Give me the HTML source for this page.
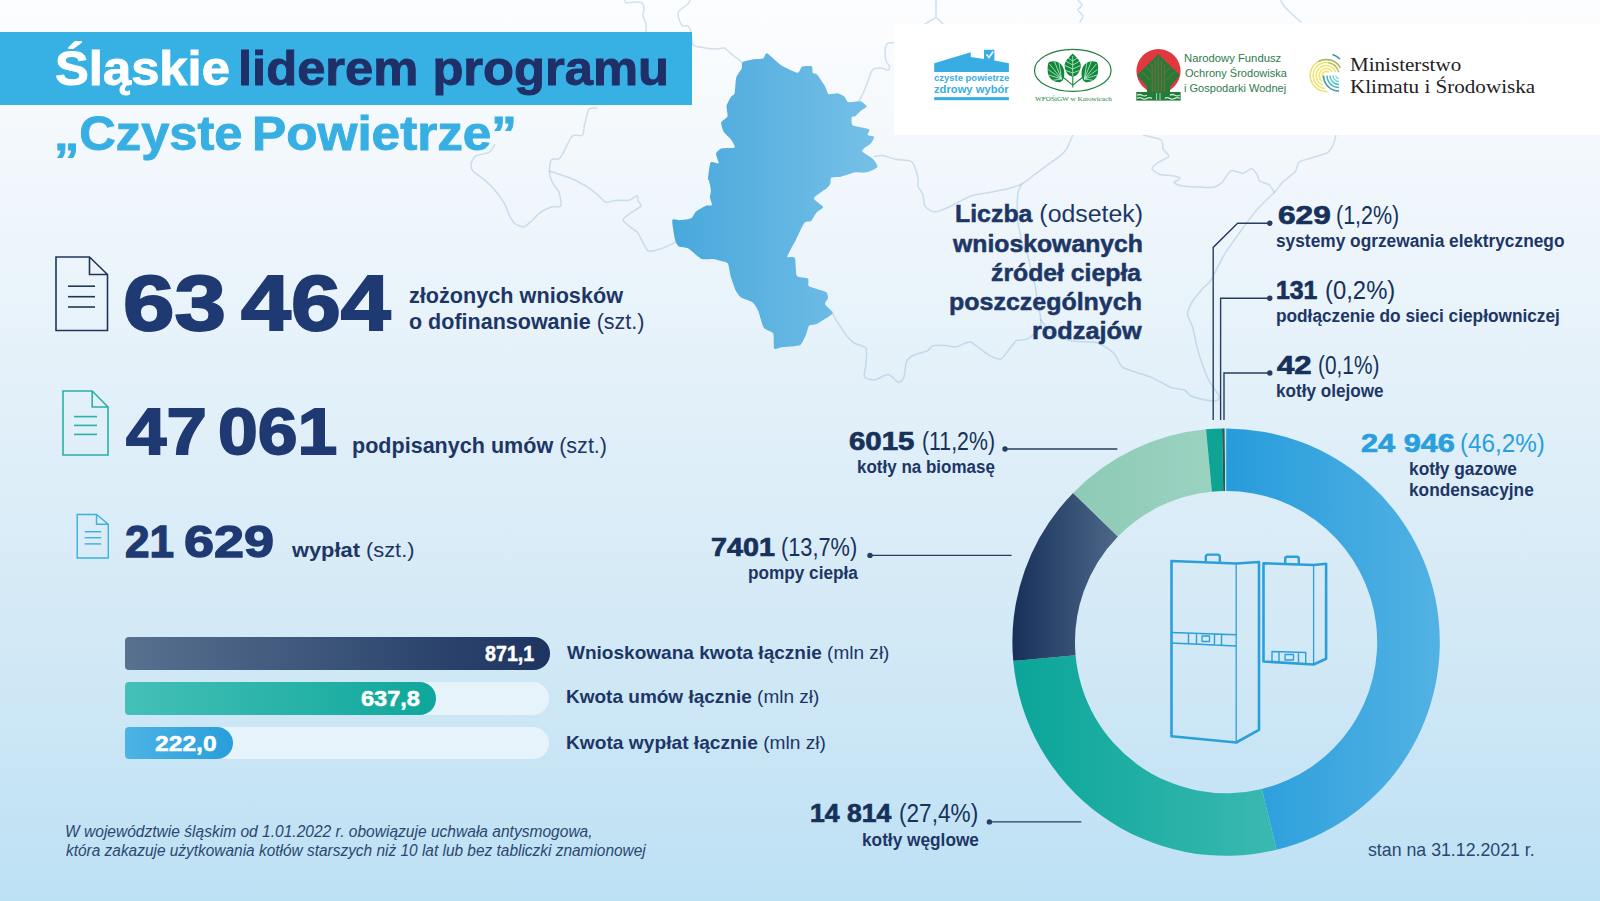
<!DOCTYPE html>
<html lang="pl">
<head>
<meta charset="utf-8">
<style>
*{margin:0;padding:0;box-sizing:border-box}
html,body{width:1600px;height:901px;overflow:hidden}
body{position:relative;font-family:"Liberation Sans",sans-serif;background:linear-gradient(180deg,#fcfdfe 0%,#f1f7fc 20%,#e2f0f9 45%,#d3e9f6 70%,#bde1f4 100%);color:#1d3666}
.a{position:absolute;white-space:nowrap;line-height:1;transform-origin:0 0}
.r{font-weight:normal}
.k{-webkit-text-stroke-width:0.7px}
.box{position:absolute}
svg{position:absolute;left:0;top:0}
</style>
</head>
<body>

<svg width="1600" height="901" viewBox="0 0 1600 901">
<defs>
<linearGradient id="mapg" x1="0" y1="0" x2="1" y2="0"><stop offset="0" stop-color="#48a8dc"/><stop offset="1" stop-color="#76c0e7"/></linearGradient>
<linearGradient id="gGas" gradientUnits="userSpaceOnUse" x1="1226" y1="0" x2="1440" y2="0"><stop offset="0" stop-color="#279cdb"/><stop offset="1" stop-color="#52b2e3"/></linearGradient>
<linearGradient id="gCoal" gradientUnits="userSpaceOnUse" x1="1012" y1="0" x2="1290" y2="0"><stop offset="0" stop-color="#0aa599"/><stop offset="1" stop-color="#3dbab2"/></linearGradient>
<linearGradient id="gHp" gradientUnits="userSpaceOnUse" x1="1012" y1="0" x2="1118" y2="0"><stop offset="0" stop-color="#17305a"/><stop offset="1" stop-color="#4d6888"/></linearGradient>
<linearGradient id="gBio" gradientUnits="userSpaceOnUse" x1="1070" y1="0" x2="1205" y2="0"><stop offset="0" stop-color="#8dcab6"/><stop offset="1" stop-color="#9ad2c0"/></linearGradient>
</defs>
<g fill="none" stroke="rgba(125,170,205,0.34)" stroke-width="1.5" stroke-linejoin="round" stroke-linecap="round">
<path d="M596.6,107.9 C595.7,108.0 590.2,107.7 589.0,108.9 C587.8,110.1 586.7,116.3 586.2,118.3 C585.7,120.3 584.7,123.8 584.3,125.8 C583.9,127.8 583.9,134.1 582.5,135.3 C581.1,136.5 574.3,134.0 572.0,136.2 C569.7,138.4 564.1,151.6 562.6,154.2 C561.1,156.8 560.2,158.2 558.9,158.9 C557.6,159.6 552.4,158.4 551.3,159.8 C550.2,161.2 549.3,168.5 549.4,171.1 C549.5,173.7 551.2,180.1 552.3,182.5 C553.4,184.9 557.9,189.2 558.9,191.9 C559.9,194.6 561.7,204.2 560.8,206.0 C559.9,207.8 553.7,206.2 551.3,207.0 C548.9,207.8 542.2,211.1 540.0,212.6 C537.8,214.1 534.4,218.5 532.5,220.2 C530.6,221.9 526.0,226.4 524.0,226.8 C522.0,227.2 517.2,225.2 515.5,224.0 C513.8,222.8 511.1,218.8 509.8,216.4 C508.5,214.0 506.0,206.3 504.2,203.2 C502.4,200.1 496.9,192.6 494.7,190.0 C492.5,187.4 487.8,182.8 485.3,180.6 C482.8,178.4 474.7,173.1 473.0,171.1 C471.3,169.1 470.8,165.4 471.1,163.6 C471.4,161.8 473.7,157.3 475.8,156.0 C477.9,154.7 486.8,153.6 489.0,152.3 C491.2,151.0 494.0,145.6 494.7,144.7"/>
<path d="M549.4,171.1 C552.0,172.0 567.4,176.7 572.0,178.7 C576.6,180.7 585.9,186.1 589.0,188.1 C592.1,190.1 596.5,194.0 598.5,195.7 C600.5,197.4 604.0,201.8 606.0,202.3 C608.0,202.8 612.9,200.6 615.5,200.4 C618.1,200.2 626.2,200.9 628.7,200.4 C631.2,199.9 636.1,195.6 637.2,195.7 C638.3,195.8 637.7,200.1 638.1,201.3 C638.5,202.5 642.1,204.5 641.0,206.0 C639.9,207.5 630.8,212.8 628.7,214.5 C626.6,216.2 622.6,218.5 623.0,220.2 C623.4,221.9 630.7,227.2 632.5,228.7 C634.3,230.2 636.4,230.9 638.1,233.4 C639.9,235.9 645.5,248.4 647.5,250.4 C649.5,252.4 652.8,250.8 655.0,250.4 C657.2,250.0 663.9,247.6 666.4,246.6 C668.9,245.6 674.9,242.5 676.0,242.0"/>
<path d="M625.0,0.0 C625.1,0.3 625.0,2.8 626.0,3.0 C627.0,3.2 632.1,2.0 634.0,2.0 C635.9,2.0 640.8,2.3 642.0,3.0 C643.2,3.7 643.9,6.5 644.0,8.0 C644.1,9.5 642.8,14.1 643.0,16.0 C643.2,17.9 645.6,22.1 646.0,24.0 C646.4,25.9 646.0,31.1 646.0,32.0"/>
<path d="M690.0,0.0 C689.8,0.5 689.2,2.8 688.0,4.0 C686.8,5.2 681.2,8.8 680.0,10.0 C678.8,11.2 678.0,12.6 678.0,14.0 C678.0,15.4 679.4,20.6 680.0,22.0 C680.6,23.4 682.1,25.5 683.0,26.0 C683.9,26.5 687.1,25.3 688.0,26.0 C688.9,26.7 690.4,29.8 691.0,32.0 C691.6,34.2 692.0,43.2 693.0,45.0 C694.0,46.8 697.5,46.5 700.0,47.0 C702.5,47.5 711.2,48.9 714.0,49.0 C716.8,49.1 722.4,47.8 724.0,48.0 C725.6,48.2 726.8,50.1 728.0,51.0 C729.2,51.9 732.4,54.7 734.0,56.0 C735.6,57.3 741.1,61.3 742.0,62.0"/>
<path d="M936,0 L936,18  M925.0,24.0 C926.3,23.3 933.9,18.0 936.0,18.0 C938.1,18.0 942.2,23.3 943.0,24.0"/>
<path d="M893.7,42.7 C892.9,42.8 888.2,42.6 887.2,43.6 C886.2,44.6 885.2,48.9 885.1,51.0 C885.0,53.1 885.7,59.9 886.2,61.6 C886.7,63.3 889.2,64.9 889.4,65.9 C889.6,66.9 889.3,69.9 888.3,70.1 C887.3,70.3 882.8,68.0 880.9,68.0 C879.0,68.0 873.9,68.6 872.4,70.1 C870.9,71.6 869.1,78.2 868.1,80.7 C867.1,83.2 864.9,89.2 863.9,91.4 C862.9,93.6 860.6,98.4 859.6,99.9 C858.6,101.4 855.9,103.6 855.4,104.1"/>
<path d="M874.7,156.4 C875.6,156.3 879.9,155.2 882.3,155.5 C884.7,155.8 892.2,158.5 895.5,159.2 C898.8,159.9 908.4,160.3 910.6,161.1 C912.8,161.9 913.4,163.7 914.3,165.8 C915.2,167.9 917.7,176.7 918.1,179.1 C918.5,181.5 917.6,184.8 918.1,186.6 C918.6,188.4 922.0,192.0 922.8,194.2 C923.6,196.4 923.7,203.5 924.7,205.5 C925.7,207.5 929.6,210.4 931.3,211.1 C933.0,211.8 936.5,211.8 938.9,211.1 C941.3,210.4 948.4,207.3 952.1,205.5 C955.8,203.7 966.5,197.5 970.9,196.0 C975.3,194.5 985.4,193.2 989.8,192.3 C994.2,191.4 1005.0,189.5 1008.7,188.5 C1012.4,187.5 1019.3,185.1 1021.9,183.8 C1024.5,182.5 1028.4,179.3 1031.3,177.2 C1034.2,175.1 1043.1,168.2 1046.4,165.8 C1049.7,163.4 1057.2,158.4 1059.6,156.4 C1062.0,154.4 1065.1,151.4 1066.6,148.9 C1068.1,146.4 1072.0,136.6 1072.7,135.0"/>
<path d="M1021.9,183.8 C1021.5,184.8 1018.6,189.8 1018.1,192.3 C1017.6,194.8 1017.2,201.8 1017.2,205.5 C1017.2,209.2 1017.8,221.2 1018.1,224.3 C1018.4,227.4 1019.6,229.7 1020.0,231.9 C1020.4,234.1 1021.0,240.6 1021.9,243.2 C1022.8,245.8 1026.6,252.3 1027.5,254.5 C1028.4,256.7 1028.7,259.2 1029.4,262.1 C1030.1,265.0 1032.5,276.4 1033.2,279.1 C1033.9,281.8 1034.7,282.3 1035.2,285.2 C1035.7,288.1 1037.2,299.9 1037.8,303.6 C1038.4,307.3 1040.2,314.2 1040.5,316.7 C1040.8,319.1 1041.1,322.8 1040.5,324.6 C1039.9,326.4 1036.7,330.8 1035.2,332.5 C1033.7,334.2 1029.4,338.2 1027.3,339.1 C1025.2,340.0 1018.4,339.9 1016.9,340.4 C1015.4,340.9 1015.1,341.9 1014.2,343.0 C1013.3,344.1 1010.5,347.8 1009.0,349.6 C1007.5,351.4 1003.2,357.9 1001.1,358.7 C999.0,359.5 993.4,357.5 990.6,356.1 C987.8,354.7 980.0,348.6 977.5,346.9 C975.0,345.2 972.1,341.7 969.6,341.7 C967.1,341.7 959.3,346.4 956.5,346.9 C953.7,347.4 948.8,345.8 946.0,345.6 C943.2,345.4 935.0,345.0 932.9,345.6 C930.8,346.2 929.7,349.8 927.6,350.9 C925.5,352.0 917.0,353.6 914.5,354.8 C912.0,356.0 907.8,358.8 906.6,361.4 C905.4,364.0 904.9,374.7 904.0,377.1 C903.1,379.6 900.5,382.7 898.7,382.4 C896.9,382.1 891.0,374.8 888.2,374.5 C885.4,374.2 877.9,379.4 875.1,379.7 C872.3,380.0 865.7,378.9 864.6,377.1 C863.5,375.3 865.7,367.4 865.9,364.0 C866.1,360.6 867.3,350.6 865.9,348.2 C864.5,345.8 856.4,344.5 854.1,343.0 C851.8,341.5 848.3,337.9 846.2,335.1 C844.1,332.3 837.4,322.2 835.7,319.4 C834.0,316.6 832.3,312.4 831.8,311.5"/>
<path d="M1040.5,319.4 C1041.7,320.9 1047.6,330.1 1051.0,332.5 C1054.4,334.9 1065.6,339.3 1069.3,340.4 C1073.0,341.5 1079.1,341.4 1082.5,341.7 C1085.9,342.0 1094.5,341.6 1098.2,343.0 C1101.9,344.4 1111.2,350.7 1114.0,353.5 C1116.8,356.3 1119.3,364.5 1121.8,366.6 C1124.2,368.7 1131.6,370.7 1135.0,371.9 C1138.4,373.1 1147.6,375.9 1150.7,377.1 C1153.8,378.3 1158.8,381.2 1161.2,382.4 C1163.7,383.6 1168.9,386.7 1171.7,387.6 C1174.5,388.5 1182.7,389.3 1184.8,390.2 C1186.9,391.1 1187.9,394.4 1190.0,395.5 C1192.1,396.6 1200.1,398.8 1203.2,399.4 C1206.3,400.0 1214.5,401.2 1216.3,400.7 C1218.1,400.2 1219.8,397.9 1218.9,395.5 C1218.0,393.1 1210.9,384.9 1208.5,379.7 C1206.1,374.5 1199.8,357.0 1198.0,350.9 C1196.2,344.8 1193.9,331.5 1192.7,327.2 C1191.5,322.9 1187.5,317.2 1187.5,314.1 C1187.5,311.0 1190.9,304.1 1192.7,301.0 C1194.5,297.9 1201.1,290.3 1203.2,287.9 C1205.3,285.4 1208.5,284.1 1211.1,280.0 C1213.7,275.9 1220.3,260.6 1225.5,252.6 C1230.7,244.6 1250.0,218.1 1255.7,211.1 C1261.4,204.1 1271.4,195.6 1274.5,192.3 C1277.6,189.0 1279.7,185.2 1282.1,182.8 C1284.5,180.4 1293.3,173.9 1295.3,171.5 C1297.3,169.1 1297.3,163.6 1299.1,162.1 C1300.9,160.6 1307.1,159.4 1310.4,158.3 C1313.7,157.2 1324.8,154.1 1327.4,152.6 C1330.0,151.1 1332.0,147.1 1333.0,145.1 C1334.0,143.1 1335.5,136.8 1335.8,135.7"/>
<path d="M1143.2,135.0 C1145.3,135.6 1158.7,138.4 1161.0,140.0 C1163.3,141.6 1162.3,147.0 1163.2,148.9 C1164.1,150.8 1169.4,154.9 1168.8,156.5 C1168.2,158.1 1160.0,161.0 1158.0,162.5 C1156.0,164.0 1151.8,167.6 1152.0,169.0 C1152.2,170.4 1157.6,173.7 1160.0,174.5 C1162.4,175.3 1170.2,175.3 1172.6,175.8 C1175.0,176.3 1180.0,177.6 1180.2,178.4 C1180.4,179.2 1174.0,181.7 1174.0,182.5 C1174.0,183.3 1178.4,185.0 1180.0,185.5 C1181.6,186.0 1183.9,186.4 1187.7,186.6 C1191.5,186.8 1208.3,187.9 1212.3,187.5 C1216.3,187.1 1219.5,184.8 1221.7,182.8 C1223.9,180.8 1228.7,171.7 1231.1,170.6 C1233.5,169.5 1240.1,173.6 1242.5,173.4 C1244.9,173.2 1250.2,168.5 1251.9,168.7 C1253.7,168.9 1256.6,173.9 1257.5,175.3 C1258.4,176.7 1258.1,179.8 1259.4,180.9 C1260.7,182.0 1267.1,183.4 1268.9,184.7 C1270.7,186.0 1273.8,191.4 1274.5,192.3"/>
<path d="M1078.0,0.0 C1078.5,0.6 1082.0,3.8 1082.0,5.0 C1082.0,6.2 1077.9,8.7 1078.0,10.0 C1078.1,11.3 1082.8,14.6 1083.0,16.0 C1083.2,17.4 1080.3,21.3 1080.0,22.0"/>
<path d="M1280.5,0.0 C1280.9,0.7 1282.7,4.4 1284.0,6.0 C1285.3,7.6 1290.0,12.1 1292.0,14.0 C1294.0,15.9 1300.0,21.1 1301.0,22.0"/>
</g>
<path fill="url(#mapg)" d="M742.5,62.2 C743.6,61.3 750.2,59.9 752.3,59.5 C754.3,59.1 761.5,59.2 763.0,58.6 C764.5,58.0 765.2,52.7 767.0,53.3 C768.8,53.9 777.6,63.0 780.7,64.9 C783.8,66.9 795.5,72.6 797.6,72.8 C799.7,73.0 800.6,67.2 802.0,66.6 C803.4,65.9 810.7,65.7 811.8,66.3 C812.9,66.9 812.2,72.0 812.7,72.8 C813.2,73.6 815.8,73.3 817.0,74.6 C818.2,75.9 823.8,84.2 825.0,86.2 C826.2,88.2 827.4,93.4 828.6,94.1 C829.9,94.8 835.9,93.0 837.5,93.3 C839.1,93.6 843.5,95.9 844.6,96.8 C845.7,97.7 846.6,101.7 848.2,102.1 C849.8,102.5 858.7,100.8 860.6,101.2 C862.5,101.7 866.8,105.6 866.8,106.6 C866.8,107.6 861.8,110.0 860.6,111.0 C859.5,112.0 856.2,115.7 855.3,116.3 C854.4,116.9 852.0,116.3 851.7,117.2 C851.4,118.1 851.4,124.1 852.6,125.2 C853.9,126.3 862.5,127.5 864.2,127.9 C865.9,128.3 869.1,128.9 869.5,129.6 C869.9,130.3 867.2,134.3 867.7,135.0 C868.2,135.7 873.6,136.0 874.0,136.8 C874.4,137.6 872.3,141.8 871.3,143.0 C870.3,144.2 865.1,147.4 864.2,148.3 C863.3,149.2 861.5,150.7 862.4,151.8 C863.3,152.9 871.5,157.4 873.0,158.9 C874.5,160.4 878.1,165.6 877.5,166.9 C876.9,168.2 869.0,171.8 866.8,172.3 C864.6,172.8 857.9,171.9 855.3,172.3 C852.7,172.7 843.4,176.2 841.0,176.7 C838.6,177.2 832.4,176.9 831.3,177.6 C830.2,178.3 830.8,182.7 830.4,183.8 C830.0,184.9 827.5,187.6 826.9,188.2 C826.3,188.8 825.5,189.0 824.2,190.0 C822.9,191.0 813.9,196.8 813.8,198.5 C813.7,200.2 822.9,205.6 823.2,207.0 C823.5,208.4 817.8,211.2 816.6,212.6 C815.4,214.0 812.2,220.1 811.0,221.1 C809.8,222.1 805.8,221.1 804.3,223.0 C802.8,224.9 797.2,237.3 795.8,240.0 C794.4,242.7 791.0,248.7 790.2,250.4 C789.4,252.1 786.9,256.2 787.4,257.0 C787.9,257.8 794.0,256.1 794.9,258.0 C795.8,259.9 795.5,273.7 796.8,275.8 C798.1,277.9 806.9,277.7 808.1,278.7 C809.3,279.7 807.2,284.9 809.0,286.2 C810.8,287.5 824.1,290.7 826.0,291.9 C827.9,293.1 828.0,297.3 827.9,298.5 C827.8,299.7 824.6,302.8 825.1,304.2 C825.6,305.6 832.5,311.2 832.6,312.6 C832.7,314.0 827.6,317.2 826.0,318.3 C824.4,319.4 818.3,323.2 816.6,324.0 C814.9,324.8 810.0,324.8 809.0,325.8 C808.0,326.8 807.0,332.4 806.2,334.3 C805.4,336.2 802.2,343.5 800.6,344.7 C799.0,345.9 792.2,346.3 790.2,346.6 C788.2,346.9 782.4,347.3 780.8,347.5 C779.2,347.7 775.0,349.9 774.2,348.5 C773.4,347.1 774.2,335.5 773.2,333.4 C772.2,331.3 765.3,330.0 763.8,327.7 C762.3,325.4 759.2,313.3 758.1,310.8 C757.0,308.3 754.2,303.6 752.5,302.3 C750.8,301.0 742.8,298.7 741.1,297.5 C739.4,296.3 736.5,292.1 735.5,290.0 C734.5,287.9 731.6,279.4 730.8,276.8 C730.0,274.2 728.9,265.2 727.9,263.6 C726.9,262.0 721.9,261.3 720.4,260.8 C718.9,260.3 714.7,259.1 712.8,258.9 C710.9,258.7 704.0,259.9 701.5,258.9 C699.0,257.9 690.6,249.7 688.3,248.5 C686.0,247.3 680.2,247.4 678.9,246.6 C677.6,245.8 675.8,242.6 675.1,240.0 C674.4,237.4 671.8,222.2 672.3,220.2 C672.8,218.2 677.9,220.4 679.8,220.2 C681.7,220.0 689.5,219.2 691.1,218.3 C692.7,217.5 694.4,212.9 695.8,211.7 C697.2,210.5 703.7,206.7 705.3,206.0 C706.9,205.3 711.4,205.9 711.9,205.1 C712.4,204.2 710.1,199.0 710.0,197.5 C709.9,196.0 711.0,191.8 710.9,190.0 C710.8,188.2 709.1,181.2 708.8,180.0 C708.5,178.8 707.8,180.2 708.0,178.5 C708.2,176.8 709.5,164.0 710.6,162.5 C711.7,161.0 718.1,164.3 718.6,163.4 C719.1,162.5 715.7,155.1 716.0,153.6 C716.3,152.1 720.1,148.9 722.0,148.3 C723.9,147.7 733.7,148.3 734.6,147.4 C735.5,146.5 732.1,140.9 731.0,139.4 C729.9,137.9 725.0,134.0 724.0,132.3 C723.0,130.6 720.9,124.1 721.2,122.5 C721.6,120.9 727.0,118.0 727.5,116.3 C728.0,114.6 726.2,107.7 726.6,105.7 C727.0,103.8 730.2,98.0 731.0,96.8 C731.8,95.6 734.1,95.2 734.6,93.3 C735.1,91.3 735.6,79.8 736.3,77.3 C737.0,74.8 741.1,69.9 741.7,68.4 C742.3,66.9 741.4,63.1 742.5,62.2 Z"/>
</svg>
<div class="box" style="left:0;top:32px;width:692px;height:73px;background:#37b0e4"></div>
<div class="box" style="left:894px;top:24px;width:706px;height:111px;background:#fff"></div>
<div class="box" style="left:124.6px;top:637.2px;width:425px;height:32.6px;border-radius:4px 16.3px 16.3px 4px;background:linear-gradient(90deg,#58718f,#1c3460)"></div>
<div class="box" style="left:124.6px;top:682px;width:424px;height:32.6px;border-radius:4px 16.3px 16.3px 4px;background:#e7f3fb"></div>
<div class="box" style="left:124.6px;top:682px;width:311px;height:32.6px;border-radius:4px 16.3px 16.3px 4px;background:linear-gradient(90deg,#44c0b7,#0fa79b)"></div>
<div class="box" style="left:124.6px;top:726.9px;width:424px;height:32.4px;border-radius:4px 16.2px 16.2px 4px;background:#e7f3fb"></div>
<div class="box" style="left:124.6px;top:726.9px;width:108.3px;height:32.4px;border-radius:4px 16.2px 16.2px 4px;background:linear-gradient(90deg,#4db3e4,#289edb)"></div>
<svg width="1600" height="901" viewBox="0 0 1600 901">
<path fill="url(#gGas)" d="M1226.10,428.40 A213.7,213.7 0 0 1 1276.64,849.74 L1261.83,788.91 A151.1,151.1 0 0 0 1226.10,491.00 Z"/>
<path fill="url(#gCoal)" d="M1276.64,849.74 A213.7,213.7 0 0 1 1013.23,660.87 L1075.58,655.37 A151.1,151.1 0 0 0 1261.83,788.91 Z"/>
<path fill="url(#gHp)" d="M1013.23,660.87 A213.7,213.7 0 0 1 1073.10,492.90 L1117.92,536.61 A151.1,151.1 0 0 0 1075.58,655.37 Z"/>
<path fill="url(#gBio)" d="M1073.10,492.90 A213.7,213.7 0 0 1 1205.99,429.35 L1211.88,491.67 A151.1,151.1 0 0 0 1117.92,536.61 Z"/>
<path fill="#0fa394" d="M1205.99,429.35 A213.7,213.7 0 0 1 1222.07,428.44 L1223.25,491.03 A151.1,151.1 0 0 0 1211.88,491.67 Z"/>
<path fill="#1f5f5c" d="M1222.07,428.44 A213.7,213.7 0 0 1 1224.76,428.40 L1225.15,491.00 A151.1,151.1 0 0 0 1223.25,491.03 Z"/>
<path fill="#c3dfea" d="M1224.76,428.40 A213.7,213.7 0 0 1 1226.10,428.40 L1226.10,491.00 A151.1,151.1 0 0 0 1225.15,491.00 Z"/>
<g fill="none" stroke="#2c9fd9" stroke-linejoin="round">
<path stroke-width="2.6" d="M1171.5,561 L1236.2,563.5 L1259,562 L1259,729.8 L1236.2,742.5 L1171.5,736.2 Z"/>
<path stroke-width="1.3" d="M1236.2,563.5 L1236.2,742.5"/>
<path stroke-width="2.4" d="M1205.8,561.8 L1205.8,557 Q1205.8,554.6 1208.2,554.6 L1217.4,554.6 Q1219.8,554.6 1219.8,557 L1219.8,562.4"/>
<path stroke-width="1.4" d="M1171.5,632.5 L1236.2,634.8 M1171.5,643 L1236.2,646 M1188.5,633.1 L1188.5,643.8 M1196.5,633.4 L1196.5,644.2 M1214.5,634 L1214.5,645 M1221.5,634.3 L1221.5,645.4"/>
<rect stroke-width="1.3" x="1202" y="636" width="7.5" height="5.5"/>
<path stroke-width="2.6" d="M1263.5,563.2 L1313.6,565 L1326.1,563.7 L1326.1,658.8 L1313.6,664.5 L1263.5,661.5 Z"/>
<path stroke-width="1.3" d="M1313.6,565 L1313.6,664.5"/>
<path stroke-width="2.4" d="M1285.2,564 L1285.2,559 Q1285.2,556.8 1287.4,556.8 L1296.6,556.8 Q1298.8,556.8 1298.8,559 L1298.8,564.3"/>
<path stroke-width="1.4" d="M1272,662 L1272,651.5 L1305.7,652.5 L1305.7,663 M1279,652 L1279,662.3 M1298.5,652.3 L1298.5,662.8"/>
<rect stroke-width="1.3" x="1285" y="654.5" width="8.5" height="5.5"/>
</g>
<g fill="none" stroke="#263e62" stroke-width="1.4">
<polyline points="1269.8,223.3 1237.6,223.3 1213.2,247.4 1213.2,420"/>
<polyline points="1269.8,298.3 1220.6,298.3 1220.6,420"/>
<polyline points="1269.8,373 1224,373 1224,420"/>
<line x1="1005" y1="449" x2="1117.3" y2="449"/>
<line x1="870" y1="555.4" x2="1011.6" y2="555.4"/>
<line x1="989.4" y1="821.9" x2="1081.3" y2="821.9"/>
</g>
<g fill="#263e62">
<circle cx="1269.8" cy="223.3" r="2.7"/><circle cx="1269.8" cy="298.3" r="2.7"/><circle cx="1269.8" cy="373" r="2.7"/>
<circle cx="1005" cy="449" r="2.7"/><circle cx="870" cy="555.4" r="2.7"/><circle cx="989.4" cy="821.9" r="2.7"/>
</g>
<path d="M56,257 L89.5,257 L107.5,274.5 L107.5,330.5 L56,330.5 Z M89.5,257 L89.5,274.5 L107.5,274.5" fill="none" stroke="#1f3658" stroke-width="1.6" stroke-linejoin="miter"/><line x1="68" y1="286.2" x2="95" y2="286.2" stroke="#1f3658" stroke-width="1.6"/><line x1="68" y1="296.7" x2="95" y2="296.7" stroke="#1f3658" stroke-width="1.6"/><line x1="68" y1="307" x2="95" y2="307" stroke="#1f3658" stroke-width="1.6"/><path d="M63,391 L92.2,391 L108,407 L108,455 L63,455 Z M92.2,391 L92.2,407 L108,407" fill="none" stroke="#2bb0a5" stroke-width="1.6" stroke-linejoin="miter"/><line x1="74" y1="416.6" x2="97" y2="416.6" stroke="#2bb0a5" stroke-width="1.6"/><line x1="74" y1="425.4" x2="97" y2="425.4" stroke="#2bb0a5" stroke-width="1.6"/><line x1="74" y1="434.4" x2="97" y2="434.4" stroke="#2bb0a5" stroke-width="1.6"/><path d="M77.2,514.5 L96.5,514.5 L108.3,524.3 L108.3,558 L77.2,558 Z M96.5,514.5 L96.5,524.3 L108.3,524.3" fill="none" stroke="#3cb0df" stroke-width="1.4" stroke-linejoin="miter"/><line x1="84.7" y1="531.7" x2="101.2" y2="531.7" stroke="#3cb0df" stroke-width="1.4"/><line x1="84.7" y1="537.7" x2="101.2" y2="537.7" stroke="#3cb0df" stroke-width="1.4"/><line x1="84.7" y1="543.9" x2="101.2" y2="543.9" stroke="#3cb0df" stroke-width="1.4"/>

<g>
<path fill="#38ade3" d="M934.2,71.9 L934.2,63.2 L970.7,52.3 L970.8,56.9 L984,59 L984,49.7 L994.4,49.7 L994.4,60.6 L1008.9,63.3 L1008.9,71.9 Z"/>
<path fill="none" stroke="#fff" stroke-width="1.6" d="M986.5,54.5 L989,57.5 L993.2,51.5"/>
<rect x="934.2" y="97.1" width="74.7" height="3.1" fill="#38ade3"/>
</g>
<g>
<ellipse cx="1072.8" cy="70.4" rx="38.3" ry="21" fill="none" stroke="#1f8040" stroke-width="1.2"/>
<path fill="#14873d" d="M1072.7,53.4 C1076,57 1081.5,61 1080.8,66.5 C1080,72 1077,76.3 1072.7,76.6 C1068.4,76.3 1065.4,72 1064.7,66.5 C1064,61 1069.4,57 1072.7,53.4 Z"/>
<path fill="#14873d" d="M1049,62 C1055,59.8 1062,62 1064,70 C1065,76 1063.5,81 1060,82.2 C1054,82.8 1048.5,78.5 1047.8,72.5 C1047.4,67.5 1047.6,64 1049,62 Z"/>
<path fill="#14873d" d="M 1096.8,62 C 1090.8,59.8 1083.8,62 1081.8,70 C 1080.8,76 1082.3,81 1085.8,82.2 C 1091.8,82.8 1097.3,78.5 1098.0,72.5 C 1098.4,67.5 1098.2,64 1096.8,62 Z"/>
<path fill="none" stroke="#c8f5d8" stroke-width="0.75" d="M1072.7,56 L1072.7,76.5 M1072.7,61 L1068,58 M1072.7,61 L1077.4,58 M1072.7,65 L1065.5,61 M1072.7,65 L1079.9,61 M1072.7,69 L1065,65.5 M1072.7,69 L1080.4,65.5 M1072.7,73 L1066,70.5 M1072.7,73 L1079.4,70.5 M1061.5,79 L1049.5,64 M1061.5,79 L1048.3,69.5 M1061.5,79 L1048.6,75 M1061.5,79 L1051.5,80.5 M1061.5,79 L1054.5,61.5 M1061.5,79 L1059,62.5 M 1084.3,79 L 1096.3,64 M 1084.3,79 L 1097.5,69.5 M 1084.3,79 L 1097.2,75 M 1084.3,79 L 1094.3,80.5 M 1084.3,79 L 1091.3,61.5 M 1084.3,79 L 1086.8,62.5"/>
<path fill="none" stroke="#14873d" stroke-width="1.1" d="M1072.8,76 L1072.8,87.6 M1072.8,85.1 L1063,77.3 M1072.8,85.1 L1082.6,77.3"/>
</g>
<g>
<circle cx="1158.5" cy="71.1" r="22.1" fill="#e0383e"/>
<path fill="#267a38" d="M1158.3,54.3 L1180,75.3 L1170,86.6 L1170,92.5 L1147,92.5 L1147,86.6 L1137,75.3 Z"/>
<clipPath id="nfclip"><path d="M1158.3,55.5 L1178.6,75.3 L1169,86 L1169,92.5 L1148,92.5 L1148,86 L1138.3,75.3 Z"/></clipPath>
<g fill="none" stroke="#8c6a3c" stroke-width="0.9" clip-path="url(#nfclip)">
<path d="M1158.3,57 L1158.3,93 M1155.2,61 L1155.2,93 M1161.4,61 L1161.4,93 M1152.2,65 L1152.2,93 M1164.4,65 L1164.4,93"/>
<path d="M1155.2,61 L1149,55 M1152.2,66 L1143,57 M1152.2,73 L1139,60 M1150,80 L1136,66"/>
<path d="M1161.4,61 L1167.6,55 M1164.4,66 L1173.6,57 M1164.4,73 L1177.6,60 M1166.6,80 L1180.6,66"/>
</g>
<rect x="1136.3" y="92" width="44.3" height="8.6" fill="#267a38"/>
<g fill="none" stroke="#bdf0d4" stroke-width="1.3">
<path d="M1137,95.2 Q1139.5,93.8 1142,95.2 T1147,95.2 M1169.8,95.2 Q1172.3,93.8 1174.8,95.2 T1179.8,95.2 M1137,98.4 Q1139.5,97 1142,98.4 T1147,98.4 T1152,98.4 M1164.8,98.4 Q1167.3,97 1169.8,98.4 T1174.8,98.4 T1179.8,98.4"/>
<path stroke-width="0.8" d="M1156.6,93 L1156.6,100 M1160,93 L1160,100"/>
</g>
</g>
<g fill="none" stroke-width="1.55" stroke-linecap="butt">
<path stroke="#e9e173" d="M1327.59,91.44 A16,16 0 1 1 1331.67,60.46"/>
<path stroke="#efe56c" d="M1324.84,88.43 A13,13 0 1 1 1337.46,69.00"/>
<path stroke="#f1e668" d="M1322.78,84.90 A10,10 0 1 1 1335.60,72.08"/>
<path stroke="#f2e66a" d="M1322.18,81.23 A7,7 0 1 1 1332.26,72.00"/>
<path stroke="#efe47a" d="M1322.92,77.79 A4,4 0 0 1 1328.77,72.44"/>
<path stroke="#a9b66c" d="M1318.20,61.64 A16,16 0 0 1 1340.33,67.99"/>
<path stroke="#b8c070" d="M1328.46,62.70 A13,13 0 0 1 1338.76,72.14"/>
<path stroke="#3f8f9c" d="M1332.47,54.43 A19,19 0 0 1 1340.04,59.06"/>
<path stroke="#8fe0e2" d="M1336.00,75.50 A3,3 0 0 0 1339.00,78.50"/>
<path stroke="#6fd2d8" d="M1333.00,75.50 A6,6 0 0 0 1339.00,81.50"/>
<path stroke="#58c4cf" d="M1330.00,75.50 A9,9 0 0 0 1339.00,84.50"/>
<path stroke="#48b3c2" d="M1327.00,75.50 A12,12 0 0 0 1339.00,87.50"/>
<path stroke="#3b9aa8" d="M1323.50,75.50 A15.5,15.5 0 0 0 1339.00,91.00"/>
</g>
</svg>

<div class="a" style="-webkit-text-stroke-width:0.9px;left:54.93px;top:45.29px;font-size:47.5px;font-weight:bold;color:#ffffff;transform:scaleX(1.0679)">Śląskie</div>
<div class="a" style="-webkit-text-stroke-width:0.9px;left:238.1px;top:45.29px;font-size:47.5px;font-weight:bold;color:#1f2f68;transform:scaleX(1.0671)">liderem programu</div>
<div class="a" style="-webkit-text-stroke-width:0.9px;left:53.8px;top:109.59px;font-size:47.5px;font-weight:bold;color:#38afe3;transform:scaleX(1.0653)">„Czyste</div>
<div class="a" style="-webkit-text-stroke-width:0.9px;left:251.76px;top:109.59px;font-size:47.5px;font-weight:bold;color:#38afe3;transform:scaleX(1.0792)">Powietrze”</div>
<div class="a" style="-webkit-text-stroke-width:2px;left:123.11px;top:265.4px;font-size:77.5px;font-weight:bold;color:#1f3a72;transform:scaleX(1.1939)">63</div>
<div class="a" style="-webkit-text-stroke-width:2px;left:241.0px;top:265.4px;font-size:77.5px;font-weight:bold;color:#1f3a72;transform:scaleX(1.1577)">464</div>
<div class="a" style="left:409.02px;top:285.48px;font-size:22px;font-weight:bold;color:#1d3666;transform:scaleX(0.9834)">złożonych wniosków</div>
<div class="a" style="left:409.02px;top:311.48px;font-size:22px;font-weight:bold;color:#1d3666;transform:scaleX(0.9778)">o dofinansowanie <span class="r">(szt.)</span></div>
<div class="a" style="-webkit-text-stroke-width:1.8px;left:126.0px;top:399.15px;font-size:65.5px;font-weight:bold;color:#1f3a72;transform:scaleX(1.1085)">47</div>
<div class="a" style="-webkit-text-stroke-width:1.8px;left:217.52px;top:399.15px;font-size:65.5px;font-weight:bold;color:#1f3a72;transform:scaleX(1.0915)">061</div>
<div class="a" style="left:352.1px;top:435.85px;font-size:21.5px;font-weight:bold;color:#1d3666;transform:scaleX(1.0024)">podpisanych umów <span class="r">(szt.)</span></div>
<div class="a" style="-webkit-text-stroke-width:1.3px;left:124.91px;top:519.56px;font-size:44.7px;font-weight:bold;color:#1f3a72;transform:scaleX(0.9875)">21</div>
<div class="a" style="-webkit-text-stroke-width:1.3px;left:183.69px;top:519.56px;font-size:44.7px;font-weight:bold;color:#1f3a72;transform:scaleX(1.2096)">629</div>
<div class="a" style="left:292.4px;top:540.05px;font-size:20.5px;font-weight:bold;color:#1d3666;transform:scaleX(1.0649)">wypłat <span class="r">(szt.)</span></div>
<div class="a" style="-webkit-text-stroke-width:0.5px;left:484.9px;top:643.38px;font-size:22px;font-weight:bold;color:#ffffff;transform:scaleX(0.8945)">871,1</div>
<div class="a" style="-webkit-text-stroke-width:0.5px;left:360.6px;top:687.98px;font-size:22px;font-weight:bold;color:#ffffff;transform:scaleX(1.0709)">637,8</div>
<div class="a" style="-webkit-text-stroke-width:0.5px;left:155.1px;top:732.78px;font-size:22px;font-weight:bold;color:#ffffff;transform:scaleX(1.12)">222,0</div>
<div class="a" style="left:566.9px;top:643.54px;font-size:18.5px;font-weight:bold;color:#1d3666;transform:scaleX(1.0284)">Wnioskowana kwota łącznie <span class="r">(mln zł)</span></div>
<div class="a" style="left:565.87px;top:688.34px;font-size:18.5px;font-weight:bold;color:#1d3666;transform:scaleX(1.0269)">Kwota umów łącznie <span class="r">(mln zł)</span></div>
<div class="a" style="left:565.86px;top:733.64px;font-size:18.5px;font-weight:bold;color:#1d3666;transform:scaleX(1.0365)">Kwota wypłat łącznie <span class="r">(mln zł)</span></div>
<div class="a" style="left:64.64px;top:822.7px;font-size:16.3px;font-style:italic;color:#2b4670;transform:scaleX(0.9552)">W województwie śląskim od 1.01.2022 r. obowiązuje uchwała antysmogowa,</div>
<div class="a" style="left:65.6px;top:841.9px;font-size:16.3px;font-style:italic;color:#2b4670;transform:scaleX(0.9477)">która zakazuje użytkowania kotłów starszych niż 10 lat lub bez tabliczki znamionowej</div>
<div class="a" style="left:955.24px;top:203.31px;font-size:23.5px;font-weight:bold;color:#1d3666;transform:scaleX(1.0589)"><span style="-webkit-text-stroke-width:0.5px">Liczba</span> <span class="r">(odsetek)</span></div>
<div class="a" style="-webkit-text-stroke-width:0.5px;left:952.9px;top:232.61px;font-size:23.5px;font-weight:bold;color:#1d3666;transform:scaleX(1.0542)">wnioskowanych</div>
<div class="a" style="-webkit-text-stroke-width:0.5px;left:990.85px;top:261.81px;font-size:23.5px;font-weight:bold;color:#1d3666;transform:scaleX(1.0542)">źródeł ciepła</div>
<div class="a" style="-webkit-text-stroke-width:0.5px;left:949.24px;top:290.71px;font-size:23.5px;font-weight:bold;color:#1d3666;transform:scaleX(1.0628)">poszczególnych</div>
<div class="a" style="-webkit-text-stroke-width:0.5px;left:1031.82px;top:319.91px;font-size:23.5px;font-weight:bold;color:#1d3666;transform:scaleX(1.0762)">rodzajów</div>
<div class="a" style="-webkit-text-stroke-width:0.7px;left:1278.2px;top:202.94px;font-size:25px;font-weight:bold;color:#17315b;transform:scaleX(1.2634)">629</div>
<div class="a" style="left:1336.14px;top:202.94px;font-size:25px;color:#17315b;transform:scaleX(0.8592)">(1,2%)</div>
<div class="a" style="left:1276.31px;top:233.09px;font-size:17.5px;font-weight:bold;color:#1d3666;transform:scaleX(0.9886)">systemy ogrzewania elektrycznego</div>
<div class="a" style="-webkit-text-stroke-width:0.7px;left:1275.91px;top:278.14px;font-size:25px;font-weight:bold;color:#17315b;transform:scaleX(0.9927)">131</div>
<div class="a" style="left:1324.55px;top:278.14px;font-size:25px;color:#17315b;transform:scaleX(0.9549)">(0,2%)</div>
<div class="a" style="left:1276.31px;top:308.09px;font-size:17.5px;font-weight:bold;color:#1d3666;transform:scaleX(0.986)">podłączenie do sieci ciepłowniczej</div>
<div class="a" style="-webkit-text-stroke-width:0.7px;left:1276.9px;top:353.14px;font-size:25px;font-weight:bold;color:#17315b;transform:scaleX(1.2464)">42</div>
<div class="a" style="left:1318.17px;top:353.14px;font-size:25px;color:#17315b;transform:scaleX(0.8338)">(0,1%)</div>
<div class="a" style="left:1276.32px;top:383.09px;font-size:17.5px;font-weight:bold;color:#1d3666;transform:scaleX(0.9789)">kotły olejowe</div>
<div class="a" style="-webkit-text-stroke-width:0.7px;left:849.4px;top:428.54px;font-size:25px;font-weight:bold;color:#17315b;transform:scaleX(1.175)">6015</div>
<div class="a" style="left:921.65px;top:428.54px;font-size:25px;color:#17315b;transform:scaleX(0.8518)">(11,2%)</div>
<div class="a" style="left:857.13px;top:459.39px;font-size:17.5px;font-weight:bold;color:#1d3666;transform:scaleX(0.9709)">kotły na biomasę</div>
<div class="a" style="-webkit-text-stroke-width:0.7px;left:711.25px;top:534.54px;font-size:25px;font-weight:bold;color:#17315b;transform:scaleX(1.1491)">7401</div>
<div class="a" style="left:781.13px;top:534.54px;font-size:25px;color:#17315b;transform:scaleX(0.8706)">(13,7%)</div>
<div class="a" style="left:748.02px;top:564.89px;font-size:17.5px;font-weight:bold;color:#1d3666;transform:scaleX(0.982)">pompy ciepła</div>
<div class="a" style="-webkit-text-stroke-width:0.7px;left:810.19px;top:801.44px;font-size:25px;font-weight:bold;color:#17315b;transform:scaleX(1.0612)">14 814</div>
<div class="a" style="left:899.4px;top:801.44px;font-size:25px;color:#17315b;transform:scaleX(0.9047)">(27,4%)</div>
<div class="a" style="left:861.81px;top:832.14px;font-size:17.5px;font-weight:bold;color:#1d3666;transform:scaleX(0.9855)">kotły węglowe</div>
<div class="a" style="-webkit-text-stroke-width:0.7px;left:1361.2px;top:430.61px;font-size:25.5px;font-weight:bold;color:#2b9fdc;transform:scaleX(1.2026)">24 946</div>
<div class="a" style="left:1460.3px;top:430.61px;font-size:25.5px;color:#2b9fdc;transform:scaleX(0.9512)">(46,2%)</div>
<div class="a" style="left:1409.41px;top:460.99px;font-size:17.5px;font-weight:bold;color:#1d3666;transform:scaleX(0.9898)">kotły gazowe</div>
<div class="a" style="left:1409.41px;top:481.99px;font-size:17.5px;font-weight:bold;color:#1d3666;transform:scaleX(0.9868)">kondensacyjne</div>
<div class="a" style="left:1368.47px;top:839.82px;font-size:19px;color:#2b4670;transform:scaleX(0.9338)">stan na 31.12.2021 r.</div>
<div class="a" style="left:934.2px;top:74.28px;font-size:9px;font-weight:bold;color:#38ade3;transform:scaleX(1.0521)">czyste powietrze</div>
<div class="a" style="left:934.2px;top:84.21px;font-size:10.5px;font-weight:bold;color:#38ade3;transform:scaleX(1.0671)">zdrowy wybór</div>
<div class="a" style="left:1034.8px;top:96.26px;font-size:6.5px;font-family:'Liberation Serif',serif;color:#23843c;transform:scaleX(1.1043)">WFOŚiGW w Katowicach</div>
<div class="a" style="left:1183.87px;top:53.29px;font-size:11px;color:#2e7b4c;transform:scaleX(1.0258)">Narodowy Fundusz</div>
<div class="a" style="left:1184.9px;top:67.99px;font-size:11px;color:#2e7b4c;transform:scaleX(1.004)">Ochrony Środowiska</div>
<div class="a" style="left:1183.9px;top:82.79px;font-size:11px;color:#2e7b4c;transform:scaleX(1.003)">i Gospodarki Wodnej</div>
<div class="a" style="left:1350.14px;top:55.29px;font-size:19px;font-family:'Liberation Serif',serif;color:#222222;transform:scaleX(1.1086)">Ministerstwo</div>
<div class="a" style="left:1350.14px;top:76.69px;font-size:19px;font-family:'Liberation Serif',serif;color:#222222;transform:scaleX(1.11)">Klimatu i Środowiska</div>
</body>
</html>
